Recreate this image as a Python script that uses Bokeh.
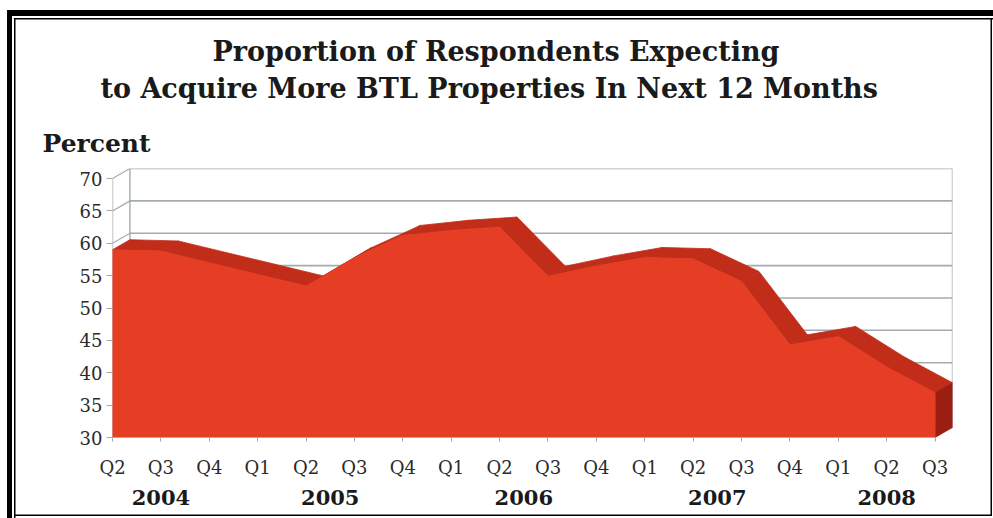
from bokeh.plotting import figure
from bokeh.models import Range1d, FixedTicker, LinearAxis, Title
from bokeh.embed import file_html
from bokeh.resources import INLINE

# ---------------- data ----------------
quarters = ["Q2", "Q3", "Q4", "Q1", "Q2", "Q3", "Q4", "Q1", "Q2", "Q3",
            "Q4", "Q1", "Q2", "Q3", "Q4", "Q1", "Q2", "Q3"]
years = ["2004", "2005", "2006", "2007", "2008"]
quarters_per_year = [3, 4, 4, 4, 3]
percent = [59.0, 58.8, 57.0, 55.2, 53.4, 57.8, 61.2, 62.0, 62.5, 54.9,
           56.5, 57.8, 57.6, 54.1, 44.3, 45.6, 40.9, 36.9]
y_ticks = [30, 35, 40, 45, 50, 55, 60, 65, 70]

title_lines = ["Proportion of Respondents Expecting",
               "to Acquire More BTL Properties In Next 12 Months"]
y_unit = "Percent"

# ---------------- layout / style ----------------
W, H = 993, 518
FL, FR, FT, FB = 112, 952, 168, 437      # frame in pixels
DX, DY = 0.36, 1.56                      # 3-D depth offset (data units)
Y0, Y1 = y_ticks[0], y_ticks[-1]
n = len(percent)
XE = n - 1 + DX
YE = Y1 + DY

FRONT = "#e53e24"
TOP = "#c22d1a"
SIDE = "#9a1f12"
GRID = "#a3abaf"
SERIF = "DejaVu Serif"

p = figure(width=W, height=H, output_backend="svg", toolbar_location=None,
           x_range=Range1d(0, XE), y_range=Range1d(Y0, YE),
           x_axis_type=None, y_axis_type=None,
           min_border_left=FL, min_border_right=W - FR,
           min_border_top=FT, min_border_bottom=H - FB)
p.outline_line_color = None
p.background_fill_color = "white"
p.border_fill_color = None
# page frame (thick black top/left bands and a thin black rule inside)
p.styles = {
    "background-color": "white",
    "box-shadow": ("inset 7px 10px 0 0 white, inset 12px 16px 0 0 black, "
                   "inset 14px 18px 0 0 white, inset 15.5px 19.5px 0 0 black, "
                   "inset -1px -2px 0 0 white, inset -2.5px -3.5px 0 0 black"),
}

# ---------------- 3-D walls ----------------
m = len(y_ticks)
p.segment(x0=[DX] * m, y0=[v + DY for v in y_ticks],
          x1=[XE] * m, y1=[v + DY for v in y_ticks],
          line_color=GRID, line_width=1.6)
p.segment(x0=[0] * m, y0=y_ticks, x1=[DX] * m, y1=[v + DY for v in y_ticks],
          line_color=GRID, line_width=1.2)
p.segment(x0=[DX, XE, 0], y0=[Y0 + DY, Y0 + DY, Y0],
          x1=[DX, XE, 0], y1=[Y1 + DY, Y1 + DY, Y1],
          line_color=GRID, line_width=1.4)

# ---------------- 3-D area ----------------
xs_top = [[i, i + 1, i + 1 + DX, i + DX] for i in range(n - 1)]
ys_top = [[percent[i], percent[i + 1], percent[i + 1] + DY, percent[i] + DY]
          for i in range(n - 1)]
p.patches(xs_top, ys_top, fill_color=TOP, line_color=TOP, line_width=0.8)
p.patch([n - 1, XE, XE, n - 1],
        [Y0, Y0 + DY, percent[-1] + DY, percent[-1]],
        fill_color=SIDE, line_color=SIDE, line_width=0.8)
p.patch(list(range(n)) + [n - 1, 0], percent + [Y0, Y0],
        fill_color=FRONT, line_color=FRONT, line_width=0.8)

# ---------------- axes ----------------
yax = LinearAxis(ticker=FixedTicker(ticks=y_ticks))
yax.axis_line_color = None
yax.major_tick_in = 0
yax.major_tick_out = 6
yax.major_tick_line_color = GRID
yax.minor_tick_line_color = None
yax.major_label_standoff = 4
yax.major_label_text_font = SERIF
yax.major_label_text_font_size = "18px"
yax.major_label_text_color = "#2a2a2a"
p.add_layout(yax, "left")

qax = LinearAxis(ticker=FixedTicker(ticks=list(range(n))),
                 major_label_overrides={i: q for i, q in enumerate(quarters)})
qax.axis_line_color = None
qax.major_tick_in = 0
qax.major_tick_out = 4
qax.major_tick_line_color = GRID
qax.minor_tick_line_color = None
qax.major_label_standoff = 15
qax.major_label_text_font = SERIF
qax.major_label_text_font_size = "18px"
qax.major_label_text_color = "#2a2a2a"
p.add_layout(qax, "below")

year_ticks = []
start = 0
for c in quarters_per_year:
    year_ticks.append(start + (c - 1) / 2)
    start += c
yrax = LinearAxis(ticker=FixedTicker(ticks=year_ticks),
                  major_label_overrides={t: y for t, y in zip(year_ticks, years)})
yrax.axis_line_color = None
yrax.major_tick_line_color = None
yrax.minor_tick_line_color = None
yrax.major_label_standoff = 3
yrax.major_label_text_font = SERIF
yrax.major_label_text_font_style = "bold"
yrax.major_label_text_font_size = "21px"
yrax.major_label_text_color = "#1a1a1a"
p.add_layout(yrax, "below")

# ---------------- titles (stacked outward from the frame) ----------------
p.add_layout(Title(text=y_unit, align="left", offset=42 - FL, standoff=22,
                   text_font=SERIF, text_font_style="bold",
                   text_font_size="25px", text_color="#1a1a1a"), "above")
p.add_layout(Title(text=title_lines[1], align="left", offset=100 - FL, standoff=23,
                   text_font=SERIF, text_font_style="bold",
                   text_font_size="27px", text_color="#1a1a1a"), "above")
p.add_layout(Title(text=title_lines[0], align="left", offset=212 - FL, standoff=-14,
                   text_font=SERIF, text_font_style="bold",
                   text_font_size="27px", text_color="#1a1a1a"), "above")

open("out.html", "w").write(file_html(p, INLINE))
